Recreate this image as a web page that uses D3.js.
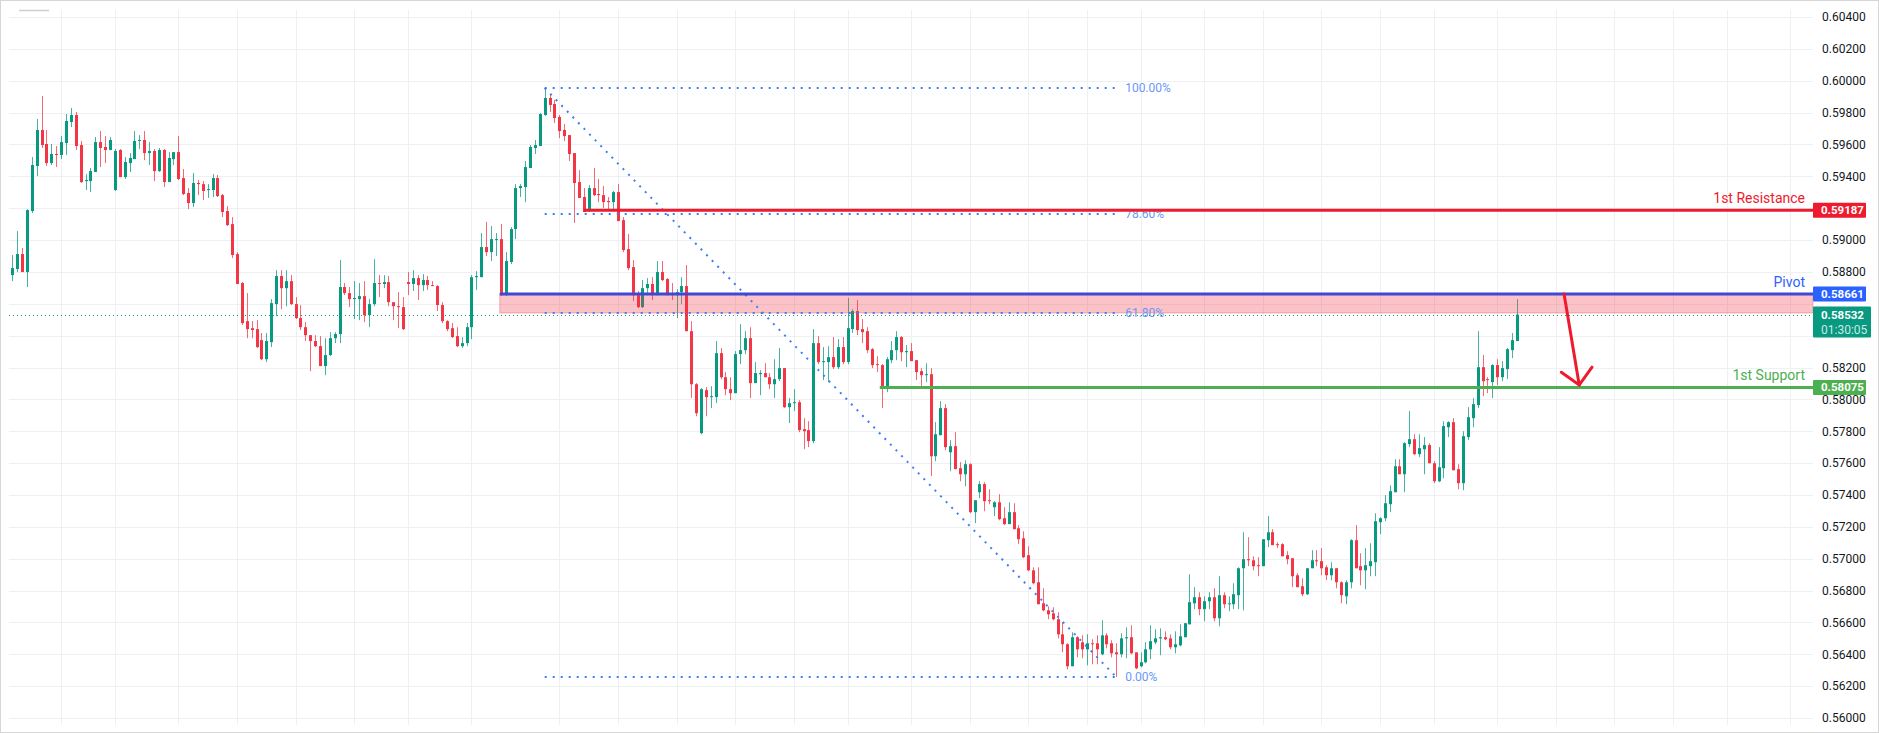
<!DOCTYPE html>
<html>
<head>
<meta charset="utf-8">
<script src="https://cdn.jsdelivr.net/npm/d3@7"></script>
<style>
  html, body { margin: 0; padding: 0; background: #fff; }
  svg { display: block; font-family: Roboto, 'Liberation Sans', sans-serif; }
</style>
</head>
<body>
<svg width="1879" height="733"></svg>
<script>
'use strict'

// 2h candles (oldest first)
const opens = [
  .58780, .58818, .58912, .58799, .59182, .59465, .59691, .59603, .59483, .59540,
  .59534, .59609, .59741, .59785, .59596, .59370, .59370, .59427, .59615, .59584,
  .59565, .59314, .59565, .59395, .59483, .59508, .59622, .59628, .59546, .59559,
  .59433, .59565, .59364, .59508, .59552, .59389, .59295, .59232, .59358, .59351,
  .59314, .59314, .59389, .59282, .59182, .59100, .58912, .58730, .58491, .58447,
  .58441, .58372, .58252, .58359, .58598, .58774, .58698, .58742, .58598, .58510,
  .58453, .58403, .58366, .58334, .58209, .58278, .58384, .58410, .58705, .58667,
  .58629, .58629, .58648, .58529, .58598, .58730, .58724, .58736, .58610, .58585,
  .58579, .58736, .58724, .58761, .58717, .58749, .58717, .58711, .58592, .58491,
  .58447, .58397, .58334, .58353, .58453, .58767, .58767, .58956, .58924, .59000,
  .59006, .58654, .58862, .59069, .59326, .59333, .59452, .59578, .59590, .59785,
  .59892, .59854, .59772, .59691, .59659, .59546, .59364, .59270, .59182, .59326,
  .59289, .59282, .59245, .59238, .59301, .59125, .58943, .58830, .58654, .58579,
  .58698, .58724, .58654, .58799, .58755, .58661, .58654, .58673, .58711, .58428,
  .58095, .57788, .58058, .58014, .58014, .58290, .58139, .58064, .58039, .58284,
  .58309, .58384, .58102, .58158, .58165, .58139, .58095, .58127, .58196, .57951,
  .57976, .57982, .57813, .57807, .57738, .58353, .58234, .58234, .58265, .58202,
  .58328, .58234, .58441, .58554, .58441, .58428, .58315, .58221, .58215, .58070,
  .58246, .58309, .58391, .58296, .58303, .58246, .58177, .58152, .58158, .57643,
  .57775, .57945, .57668, .57706, .57568, .57530, .57593, .57292, .57417, .57468,
  .57367, .57323, .57354, .57254, .57217, .57292, .57191, .57128, .57022, .56927,
  .56852, .56720, .56676, .56657, .56620, .56525, .56463, .56325, .56507, .56475,
  .56431, .56469, .56469, .56400, .56519, .56469, .56412, .56400, .56500, .56507,
  .56412, .56325, .56350, .56431, .56475, .56500, .56507, .56500, .56444, .56456,
  .56507, .56588, .56720, .56758, .56683, .56733, .56758, .56626, .56771, .56714,
  .56714, .56771, .56940, .56997, .56990, .56959, .56953, .57116, .57166, .57091,
  .57091, .57022, .57003, .56896, .56827, .56777, .56940, .56990, .56984, .56946,
  .56896, .56940, .56852, .56764, .56852, .57116, .56953, .56927, .56953, .56978,
  .57229, .57254, .57342, .57417, .57580, .57530, .57719, .57750, .57656, .57687,
  .57713, .57599, .57486, .57568, .57825, .57857, .57562, .57474, .57763, .57882,
  .57964, .58202, .58127, .58108, .58215, .58139, .58190, .58309, .58366
]
const highs = [
  .58906, .59056, .58950, .59194, .59521, .59760, .59904, .59691, .59603, .59590,
  .59653, .59791, .59829, .59804, .59622, .59414, .59452, .59647, .59684, .59653,
  .59647, .59571, .59571, .59521, .59546, .59684, .59659, .59684, .59615, .59571,
  .59578, .59571, .59552, .59552, .59653, .59446, .59326, .59421, .59377, .59370,
  .59351, .59414, .59408, .59289, .59213, .59144, .58924, .58736, .58667, .58491,
  .58497, .58416, .58416, .58629, .58811, .58811, .58811, .58780, .58642, .58592,
  .58485, .58403, .58403, .58397, .58384, .58422, .58422, .58874, .58730, .58705,
  .58742, .58730, .58742, .58629, .58880, .58780, .58780, .58774, .58610, .58673,
  .58642, .58799, .58811, .58780, .58786, .58774, .58742, .58717, .58610, .58497,
  .58479, .58453, .58391, .58479, .58780, .58805, .59044, .59113, .59088, .59044,
  .59100, .58924, .59081, .59351, .59351, .59496, .59596, .59628, .59797, .59954,
  .59910, .59879, .59785, .59728, .59659, .59546, .59439, .59326, .59345, .59452,
  .59383, .59339, .59270, .59308, .59351, .59144, .59038, .58874, .58680, .58749,
  .58761, .58767, .58868, .58868, .58761, .58730, .58692, .58767, .58843, .58491,
  .58102, .58070, .58077, .58083, .58366, .58322, .58171, .58139, .58303, .58472,
  .58428, .58453, .58234, .58183, .58227, .58165, .58252, .58322, .58196, .58008,
  .58064, .57995, .57882, .57863, .58441, .58397, .58328, .58334, .58391, .58378,
  .58391, .58636, .58566, .58623, .58504, .58453, .58322, .58271, .58221, .58265,
  .58366, .58428, .58397, .58341, .58353, .58246, .58196, .58227, .58196, .57857,
  .57989, .57970, .57744, .57794, .57606, .57618, .57599, .57367, .57486, .57480,
  .57436, .57361, .57405, .57323, .57354, .57348, .57211, .57172, .57078, .56946,
  .56946, .56814, .56701, .56695, .56664, .56601, .56469, .56538, .56513, .56519,
  .56525, .56494, .56519, .56613, .56532, .56488, .56469, .56532, .56569, .56582,
  .56412, .56412, .56475, .56582, .56557, .56563, .56544, .56525, .56544, .56588,
  .56595, .56902, .56821, .56789, .56764, .56789, .56814, .56890, .56789, .56764,
  .56846, .56946, .57166, .57135, .57015, .57009, .57122, .57267, .57185, .57103,
  .57097, .57047, .57003, .56909, .56877, .56940, .57053, .57053, .57066, .56959,
  .56978, .56940, .56858, .56865, .57122, .57211, .57034, .57066, .57097, .57285,
  .57260, .57399, .57461, .57624, .57624, .57731, .57926, .57781, .57781, .57763,
  .57725, .57612, .57700, .57863, .57863, .57882, .57593, .57800, .57951, .58008,
  .58428, .58278, .58139, .58221, .58252, .58240, .58322, .58416, .58629
]
const lows = [
  .58742, .58799, .58799, .58705, .59169, .59402, .59578, .59465, .59471, .59458,
  .59508, .59534, .59709, .59565, .59358, .59314, .59301, .59427, .59458, .59483,
  .59565, .59308, .59395, .59383, .59427, .59508, .59571, .59502, .59471, .59370,
  .59427, .59333, .59364, .59471, .59377, .59282, .59194, .59207, .59282, .59251,
  .59264, .59270, .59270, .59144, .59088, .58887, .58724, .58466, .58384, .58384,
  .58322, .58246, .58234, .58328, .58523, .58566, .58585, .58592, .58504, .58435,
  .58366, .58177, .58328, .58209, .58152, .58271, .58353, .58353, .58654, .58579,
  .58504, .58497, .58485, .58453, .58585, .58642, .58698, .58585, .58497, .58447,
  .58435, .58654, .58680, .58623, .58680, .58686, .58711, .58554, .58479, .58428,
  .58384, .58328, .58322, .58334, .58378, .58686, .58767, .58899, .58868, .58899,
  .58648, .58648, .58849, .59006, .59270, .59238, .59452, .59540, .59590, .59779,
  .59804, .59735, .59640, .59622, .59496, .59107, .59264, .59176, .59176, .59276,
  .59238, .59201, .59188, .59194, .59119, .58924, .58811, .58617, .58573, .58573,
  .58654, .58623, .58654, .58742, .58654, .58623, .58510, .58598, .58428, .58008,
  .57894, .57781, .57894, .57945, .57976, .58127, .58026, .57995, .58039, .58221,
  .58284, .58008, .58102, .58026, .58139, .58064, .58008, .58114, .57945, .57851,
  .57926, .57794, .57687, .57700, .57725, .58221, .58121, .58108, .58190, .58190,
  .58221, .58221, .58416, .58403, .58353, .58290, .58196, .58171, .57945, .58045,
  .58227, .58246, .58240, .58202, .58240, .58121, .58077, .58108, .57518, .57612,
  .57775, .57681, .57549, .57562, .57486, .57455, .57285, .57223, .57380, .57298,
  .57342, .57267, .57241, .57211, .57217, .57185, .57091, .57003, .56921, .56839,
  .56714, .56670, .56620, .56613, .56500, .56412, .56306, .56325, .56381, .56375,
  .56331, .56337, .56337, .56394, .56437, .56381, .56258, .56381, .56375, .56400,
  .56306, .56318, .56343, .56369, .56463, .56394, .56488, .56431, .56406, .56450,
  .56507, .56588, .56683, .56645, .56607, .56683, .56607, .56576, .56689, .56670,
  .56683, .56683, .56676, .56953, .56927, .56890, .56953, .57072, .57085, .57066,
  .57015, .56965, .56821, .56821, .56764, .56771, .56940, .56953, .56896, .56865,
  .56865, .56814, .56720, .56714, .56814, .56940, .56833, .56808, .56890, .56890,
  .57154, .57235, .57292, .57417, .57530, .57417, .57700, .57650, .57637, .57530,
  .57599, .57474, .57480, .57505, .57763, .57555, .57436, .57430, .57744, .57825,
  .57945, .58020, .58039, .58008, .58089, .58114, .58127, .58259, .58366
]
const closes = [
  .58824, .58912, .58799, .59188, .59471, .59691, .59596, .59483, .59540, .59534,
  .59615, .59747, .59785, .59590, .59364, .59377, .59433, .59615, .59578, .59565,
  .59628, .59559, .59395, .59490, .59515, .59622, .59628, .59546, .59559, .59433,
  .59565, .59364, .59515, .59552, .59383, .59289, .59232, .59358, .59351, .59308,
  .59320, .59389, .59276, .59176, .59094, .58906, .58724, .58479, .58441, .58435,
  .58328, .58252, .58366, .58604, .58774, .58698, .58742, .58598, .58510, .58453,
  .58403, .58366, .58334, .58209, .58278, .58384, .58410, .58705, .58667, .58629,
  .58636, .58648, .58529, .58598, .58730, .58724, .58736, .58610, .58585, .58579,
  .58441, .58724, .58761, .58717, .58749, .58717, .58711, .58592, .58491, .58441,
  .58391, .58334, .58353, .58453, .58767, .58774, .58956, .58924, .59006, .59006,
  .58654, .58868, .59069, .59326, .59339, .59458, .59584, .59596, .59791, .59892,
  .59848, .59766, .59684, .59653, .59540, .59358, .59264, .59176, .59326, .59282,
  .59282, .59238, .59238, .59301, .59119, .58937, .58824, .58654, .58579, .58698,
  .58724, .58654, .58799, .58749, .58654, .58654, .58673, .58711, .58428, .58095,
  .57913, .58064, .58014, .58020, .58290, .58139, .58064, .58039, .58284, .58309,
  .58384, .58102, .58165, .58165, .58139, .58095, .58127, .58196, .57951, .57976,
  .57982, .57807, .57800, .57738, .58353, .58234, .58240, .58265, .58202, .58328,
  .58234, .58447, .58554, .58435, .58422, .58309, .58215, .58215, .58070, .58252,
  .58309, .58391, .58296, .58303, .58240, .58171, .58152, .58158, .57643, .57781,
  .57945, .57700, .57706, .57562, .57530, .57593, .57292, .57367, .57468, .57361,
  .57361, .57354, .57248, .57217, .57292, .57185, .57122, .57009, .56927, .56846,
  .56714, .56676, .56651, .56620, .56525, .56463, .56325, .56507, .56431, .56431,
  .56469, .56463, .56431, .56519, .56463, .56406, .56400, .56500, .56507, .56406,
  .56312, .56350, .56431, .56482, .56500, .56507, .56494, .56444, .56463, .56513,
  .56595, .56727, .56758, .56683, .56733, .56758, .56626, .56771, .56714, .56720,
  .56777, .56940, .56997, .56990, .56953, .56953, .57122, .57166, .57085, .57085,
  .57015, .56997, .56890, .56821, .56777, .56940, .56990, .56984, .56940, .56896,
  .56940, .56852, .56771, .56852, .57116, .56940, .56927, .56959, .56984, .57235,
  .57254, .57348, .57424, .57580, .57530, .57725, .57750, .57656, .57694, .57713,
  .57599, .57486, .57574, .57832, .57857, .57555, .57474, .57769, .57888, .57970,
  .58202, .58114, .58121, .58215, .58139, .58196, .58315, .58372, .58532
]

// price axis
const yTicks = [0.560, 0.562, 0.564, 0.566, 0.568, 0.570, 0.572, 0.574, 0.576, 0.578, 0.580,
  0.582, 0.584, 0.586, 0.588, 0.590, 0.592, 0.594, 0.596, 0.598, 0.600, 0.602, 0.604]
// candle index of each vertical (session) grid line
const timeGrid = [10, 21, 34, 46, 58, 70, 81, 94, 112, 124, 136, 148, 160, 171, 184, 196,
  208, 220, 231, 244, 256, 268, 280, 291, 304, 316, 328, 340, 351, 364]

// fibonacci retracement: anchor candles and levels
const fibFrom = 109
const fibTo = 226
const fibLevels = [1, 0.786, 0.618, 0]
const fibNames = ['100.00%', '78.60%', '61.80%', '0.00%']

// horizontal levels: name, price, first candle
const levelNames = ['1st Resistance', 'Pivot', '1st Support']
const levelPrices = [0.59187, 0.58661, 0.58075]
const levelStarts = [117, 99.8, 177.6]
const levelColors = ['#ee1a2d', '#4046d6', '#4caf50']
const levelTextColors = ['#ee1a2d', '#2e62ff', '#4caf50']
const tagColors = ['#ee1a2d', '#2962ff', '#4caf50']

// pink zone between pivot and the 61.8% retracement
const zoneStart = 99.8
const zoneTop = 0.58661

// projected move arrow (candle index, price)
const arrowFrom = [317.7, 0.58661]
const arrowTo = [320.8, 0.5809]

const lastPrice = closes[closes.length - 1]
const countdown = '01:30:05'

const svg = d3.select('svg')
const width = +svg.attr('width')
const height = +svg.attr('height')
const plotLeft = 9
const plotRight = 1813
const plotTop = 10
const plotBottom = 725

const x = d3.scaleLinear().domain([0, 308]).range([12.3, 1516.7])
const y = d3.scaleLinear().domain([0.56, 0.604]).range([718, 17])
const fmt = d3.format('.5f')

svg.append('rect').attr('width', width).attr('height', height).attr('fill', '#fff')

// frame of the screenshot
svg.append('rect')
    .attr('x', 0.5).attr('y', 0.5)
    .attr('width', width - 1).attr('height', height - 1)
    .attr('fill', 'none')
    .attr('stroke', '#d6d6d6')
svg.append('line')
    .attr('x1', 19).attr('x2', 49).attr('y1', 10.5).attr('y2', 10.5)
    .attr('stroke', '#cfcfcf').attr('stroke-width', 1.5)

// grid
const grid = svg.append('g').attr('class', 'grid')
grid.selectAll('line.h')
    .data(yTicks)
    .enter()
    .append('line')
    .attr('class', 'h')
    .attr('x1', plotLeft).attr('x2', plotRight)
    .attr('y1', d => Math.round(y(d)) + 0.5)
    .attr('y2', d => Math.round(y(d)) + 0.5)
    .attr('stroke', '#eef0f4')
grid.selectAll('line.v')
    .data(timeGrid)
    .enter()
    .append('line')
    .attr('class', 'v')
    .attr('x1', d => Math.round(x(d)) + 0.5)
    .attr('x2', d => Math.round(x(d)) + 0.5)
    .attr('y1', plotTop).attr('y2', plotBottom)
    .attr('stroke', '#eef0f4')

// candles
const up = '#089981'
const down = '#f23645'
const candles = svg.append('g')
    .attr('class', 'candles')
    .selectAll('g')
    .data(closes.map((c, i) => ({ i, o: opens[i], h: highs[i], l: lows[i], c })))
    .enter()
    .append('g')
    .attr('fill', d => d.c >= d.o ? up : down)
    .attr('stroke', d => d.c >= d.o ? up : down)

candles.append('line')
    .attr('x1', d => Math.round(x(d.i)) + 0.5)
    .attr('x2', d => Math.round(x(d.i)) + 0.5)
    .attr('y1', d => y(d.h))
    .attr('y2', d => y(d.l))
    .attr('stroke-width', 1)
    .attr('stroke-opacity', 0.75)

candles.append('rect')
    .attr('x', d => Math.round(x(d.i)) - 1)
    .attr('width', 3)
    .attr('y', d => y(Math.max(d.o, d.c)))
    .attr('height', d => Math.max(1, Math.abs(y(d.o) - y(d.c))))
    .attr('stroke', 'none')

// fib prices
const fibHigh = highs[fibFrom]
const fibLow = lows[fibTo]
const fibPrice = lvl => fibLow + lvl * (fibHigh - fibLow)
const zoneBottom = fibPrice(0.618)

// zone
svg.append('rect')
    .attr('x', x(zoneStart))
    .attr('y', y(zoneTop))
    .attr('width', plotRight - x(zoneStart))
    .attr('height', y(zoneBottom) - y(zoneTop))
    .attr('fill', 'rgba(242, 54, 69, 0.3)')
    .attr('stroke', 'rgba(242, 54, 69, 0.35)')

// fib retracement
const fib = svg.append('g').attr('class', 'fib')
fib.selectAll('line')
    .data(fibLevels)
    .enter()
    .append('line')
    .attr('x1', x(fibFrom)).attr('x2', x(fibTo))
    .attr('y1', d => y(fibPrice(d))).attr('y2', d => y(fibPrice(d)))
    .attr('stroke', '#3f7cf5')
    .attr('stroke-width', 2)
    .attr('stroke-dasharray', '2 6')
fib.append('line')
    .attr('x1', x(fibFrom)).attr('y1', y(fibHigh))
    .attr('x2', x(fibTo)).attr('y2', y(fibLow))
    .attr('stroke', '#3f7cf5')
    .attr('stroke-width', 2)
    .attr('stroke-dasharray', '2 6')
fib.selectAll('text')
    .data(fibLevels)
    .enter()
    .append('text')
    .attr('x', x(fibTo) + 9)
    .attr('y', d => y(fibPrice(d)))
    .attr('dy', '0.35em')
    .attr('font-size', 12)
    .attr('fill', '#6a98f5')
    .text((d, i) => fibNames[i])

// support / resistance lines
const levels = svg.append('g').attr('class', 'levels')
levels.selectAll('line')
    .data(levelPrices)
    .enter()
    .append('line')
    .attr('x1', (d, i) => x(levelStarts[i]))
    .attr('x2', plotRight)
    .attr('y1', d => y(d)).attr('y2', d => y(d))
    .attr('stroke', (d, i) => levelColors[i])
    .attr('stroke-width', 3)
levels.selectAll('text')
    .data(levelPrices)
    .enter()
    .append('text')
    .attr('x', plotRight - 8)
    .attr('y', d => y(d) - 7)
    .attr('text-anchor', 'end')
    .attr('font-size', 14)
    .attr('fill', (d, i) => levelTextColors[i])
    .text((d, i) => levelNames[i])

// last price line
svg.append('line')
    .attr('x1', plotLeft).attr('x2', plotRight)
    .attr('y1', Math.round(y(lastPrice)) + 0.5)
    .attr('y2', Math.round(y(lastPrice)) + 0.5)
    .attr('stroke', up)
    .attr('stroke-dasharray', '1 3')

// arrow
const ax1 = x(arrowFrom[0])
const ay1 = y(arrowFrom[1])
const ax2 = x(arrowTo[0])
const ay2 = y(arrowTo[1])
const ang = Math.atan2(ay1 - ay2, ax1 - ax2)
const head = 22
const arrow = svg.append('g')
    .attr('stroke', '#ee1a2d')
    .attr('stroke-width', 3)
    .attr('stroke-linecap', 'round')
    .attr('fill', 'none')
arrow.append('line').attr('x1', ax1).attr('y1', ay1).attr('x2', ax2).attr('y2', ay2)
arrow.append('path')
    .attr('d', `M${ax2 + head * Math.cos(ang - Math.PI / 4)},${ay2 + head * Math.sin(ang - Math.PI / 4)}` +
        `L${ax2},${ay2}` +
        `L${ax2 + head * Math.cos(ang + Math.PI / 4)},${ay2 + head * Math.sin(ang + Math.PI / 4)}`)

// price axis; labels hidden under the price tags are left out
const lastY = y(lastPrice)
const tagBands = levelPrices.map(p => [y(p) - 7.5, y(p) + 7.5]).concat([[lastY - 8, lastY + 23]])
const covered = v => tagBands.some(b => y(v) > b[0] - 4 && y(v) < b[1] + 4)
const axis = svg.append('g')
    .attr('transform', `translate(${plotRight},0)`)
    .call(d3.axisRight(y).tickValues(yTicks.filter(v => !covered(v))).tickFormat(fmt).tickSize(0).tickPadding(9))
axis.select('.domain').remove()
axis.selectAll('text')
    .attr('font-family', 'Roboto, sans-serif')
    .attr('font-size', 12)
    .attr('fill', '#131722')

// price tags
const tags = svg.append('g')
tags.selectAll('rect')
    .data(levelPrices)
    .enter()
    .append('rect')
    .attr('x', plotRight)
    .attr('y', d => y(d) - 7.5)
    .attr('width', 53)
    .attr('height', 15)
    .attr('rx', 1)
    .attr('fill', (d, i) => tagColors[i])
tags.selectAll('text')
    .data(levelPrices)
    .enter()
    .append('text')
    .attr('x', plotRight + 8)
    .attr('y', d => y(d))
    .attr('dy', '0.35em')
    .attr('font-size', 11.5)
    .attr('font-weight', 'bold')
    .attr('fill', '#fff')
    .text(d => fmt(d))

svg.append('rect')
    .attr('x', plotRight)
    .attr('y', lastY - 8)
    .attr('width', 58)
    .attr('height', 31)
    .attr('rx', 1)
    .attr('fill', up)
svg.append('text')
    .attr('x', plotRight + 8)
    .attr('y', lastY)
    .attr('dy', '0.35em')
    .attr('font-size', 11.5)
    .attr('font-weight', 'bold')
    .attr('fill', '#fff')
    .text(fmt(lastPrice))
svg.append('text')
    .attr('x', plotRight + 8)
    .attr('y', lastY + 15)
    .attr('dy', '0.35em')
    .attr('font-size', 12)
    .attr('fill', '#fff')
    .attr('fill-opacity', 0.8)
    .text(countdown)
</script>
</body>
</html>
